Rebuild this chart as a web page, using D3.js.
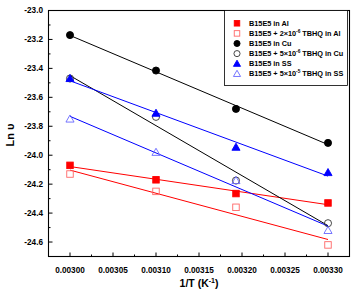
<!DOCTYPE html>
<html>
<head>
<meta charset="utf-8">
<script src="https://cdn.jsdelivr.net/npm/d3@7"></script>
<style>
  body { margin: 0; background: #fff; }
  svg text { font-family: Arial, "Liberation Sans", sans-serif; font-weight: bold; }
</style>
</head>
<body>
<svg id="chart" width="354" height="294"></svg>
<script>
// 1/T values (K^-1)
const invT = [0.00300, 0.00310, 0.003193, 0.00330];

// Ln(rate) for each sample
const alPlain = [-24.07, -24.17, -24.265, -24.33];
const alTbhq = [-24.13, -24.25, -24.36, -24.62];
const cuPlain = [-23.17, -23.415, -23.68, -23.915];
const cuTbhq = [-23.47, -23.735, -24.175, -24.47];
const ssPlain = [-23.47, -23.71, -23.945, -24.12];
const ssTbhq = [-23.75, -23.98, -24.175, -24.52];

const xTicks = [0.00300, 0.00305, 0.00310, 0.00315, 0.00320, 0.00325, 0.00330];
const yTicks = [-23.0, -23.2, -23.4, -23.6, -23.8, -24.0, -24.2, -24.4, -24.6];

const series = [
  { label: "B15E5 in Al", values: alPlain, color: "#ff0000", shape: "square", filled: true },
  { label: "B15E5 + 2×10", sup: "-6", tail: " TBHQ in Al", values: alTbhq, color: "#ff0000", shape: "square", filled: false },
  { label: "B15E5 in Cu", values: cuPlain, color: "#000000", shape: "circle", filled: true },
  { label: "B15E5 + 5×10", sup: "-6", tail: " TBHQ in Cu", values: cuTbhq, color: "#000000", shape: "circle", filled: false },
  { label: "B15E5 in SS", values: ssPlain, color: "#0000ff", shape: "triangle", filled: true },
  { label: "B15E5 + 5×10", sup: "-5", tail: " TBHQ in SS", values: ssTbhq, color: "#0000ff", shape: "triangle", filled: false }
];

const svg = d3.select("#chart");
const margin = { left: 48.5, top: 10.5, right: 4.5, bottom: 37.5 };
const W = 354, H = 294;

const x = d3.scaleLinear().domain([0.002975, 0.003325]).range([margin.left, W - margin.right]);
const y = d3.scaleLinear().domain([-24.7, -23.0]).range([H - margin.bottom, margin.top]);

// ticks (inward)
const g = svg.append("g");
xTicks.forEach(t => {
  g.append("line").attr("x1", x(t)).attr("x2", x(t))
    .attr("y1", y.range()[0]).attr("y2", y.range()[0] - 4).attr("stroke", "#000");
  g.append("text").attr("x", x(t)).attr("y", y.range()[0] + 16)
    .attr("text-anchor", "middle").attr("font-size", 8.2).text(t.toFixed(5));
});
d3.range(0.0030, 0.00331, 0.00005).forEach(t => {
  const m = t + 0.000025;
  if (m < 0.003325) g.append("line").attr("x1", x(m)).attr("x2", x(m))
    .attr("y1", y.range()[0]).attr("y2", y.range()[0] - 2).attr("stroke", "#000");
});
yTicks.forEach(t => {
  g.append("line").attr("x1", x.range()[0]).attr("x2", x.range()[0] + 4)
    .attr("y1", y(t)).attr("y2", y(t)).attr("stroke", "#000");
  g.append("text").attr("x", x.range()[0] - 5.5).attr("y", y(t) + 2.8)
    .attr("text-anchor", "end").attr("font-size", 8.2).text(t.toFixed(1));
});
yTicks.forEach(t => {
  const m = t - 0.1;
  if (m > -24.7) g.append("line").attr("x1", x.range()[0]).attr("x2", x.range()[0] + 2)
    .attr("y1", y(m)).attr("y2", y(m)).attr("stroke", "#000");
});

// frame
svg.append("rect").attr("x", x.range()[0]).attr("y", y.range()[1])
  .attr("width", x.range()[1] - x.range()[0]).attr("height", y.range()[0] - y.range()[1])
  .attr("fill", "none").attr("stroke", "#000").attr("stroke-width", 1.1);

// linear fit lines
function fit(xs, ys) {
  const mx = d3.mean(xs), my = d3.mean(ys);
  const b = d3.sum(xs, (v, i) => (v - mx) * (ys[i] - my)) / d3.sum(xs, v => (v - mx) ** 2);
  return xv => my + b * (xv - mx);
}
series.forEach(s => {
  const f = fit(invT, s.values);
  svg.append("line")
    .attr("x1", x(invT[0])).attr("y1", y(f(invT[0])))
    .attr("x2", x(invT[3])).attr("y2", y(f(invT[3])))
    .attr("stroke", s.color).attr("stroke-width", 1);
});

function marker(sel, s, cx, cy, size) {
  const fill = s.filled ? s.color : "none";
  const stroke = s.filled ? s.color : (s.color === "#000000" ? "#333" : s.color === "#0000ff" ? "#6666ff" : "#ff6666");
  if (s.shape === "square") {
    sel.append("rect").attr("x", cx - size / 2).attr("y", cy - size / 2)
      .attr("width", size).attr("height", size).attr("fill", fill).attr("stroke", stroke).attr("stroke-width", 0.9);
  } else if (s.shape === "circle") {
    sel.append("circle").attr("cx", cx).attr("cy", cy).attr("r", size / 2 + 0.3)
      .attr("fill", fill).attr("stroke", stroke).attr("stroke-width", 0.9);
  } else {
    const r = size / 2 + 0.8;
    sel.append("path")
      .attr("d", `M${cx},${cy - r}L${cx + r},${cy + r * 0.75}L${cx - r},${cy + r * 0.75}Z`)
      .attr("fill", fill).attr("stroke", stroke).attr("stroke-width", 0.9);
  }
}

// points: open ones first so filled sit on top
const order = [1, 3, 5, 0, 2, 4];
order.forEach(i => {
  const s = series[i];
  s.values.forEach((v, j) => marker(svg, s, x(invT[j]), y(v), 6.5));
});

// legend
const lg = svg.append("g");
lg.append("rect").attr("x", 224.5).attr("y", 10.5).attr("width", 123).attr("height", 75)
  .attr("fill", "#fff").attr("stroke", "#000").attr("stroke-width", 0.8);
series.forEach((s, i) => {
  const cy = 23.3 + i * 10.1;
  marker(lg, s, 237, cy, 5.5);
  const t = lg.append("text").attr("x", 249).attr("y", cy + 2.6).attr("font-size", 7.3);
  t.append("tspan").text(s.label);
  if (s.sup) {
    t.append("tspan").attr("dy", -3).attr("font-size", 4.8).text(s.sup);
    t.append("tspan").attr("dy", 3).text(s.tail);
  }
});

// axis titles
svg.append("text").attr("x", (x.range()[0] + x.range()[1]) / 2 + 0).attr("y", 287)
  .attr("text-anchor", "middle").attr("font-size", 10.5)
  .call(t => {
    t.append("tspan").text("1/T (K");
    t.append("tspan").attr("dy", -4.5).attr("font-size", 7).text("-1");
    t.append("tspan").attr("dy", 4.5).text(")");
  });
svg.append("text").attr("transform", "translate(14,135) rotate(-90)")
  .attr("text-anchor", "middle").attr("font-size", 11).text("Ln υ");
</script>
</body>
</html>
